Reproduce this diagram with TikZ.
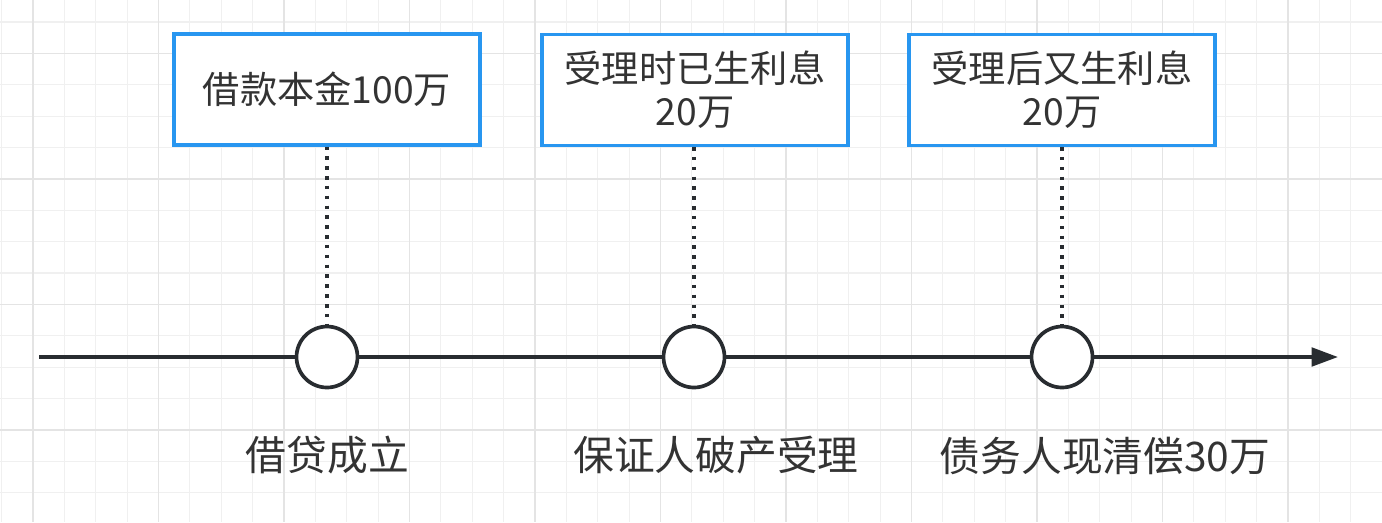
\documentclass[tikz,border=0pt]{standalone}
\usepackage{fontspec}
\setmainfont{Noto Sans CJK SC}
\usetikzlibrary{arrows.meta}
\definecolor{gridminor}{RGB}{240,240,240}
\definecolor{gridmajor}{RGB}{228,228,228}
\definecolor{boxblue}{RGB}{40,150,240}
\definecolor{ink}{RGB}{40,44,48}
\definecolor{txt}{RGB}{51,51,51}
\tikzset{
  minorline/.style={draw=gridminor, line width=0.6pt},
  majorline/.style={draw=gridmajor, line width=1.1pt},
  infobox/.style={draw=boxblue, line width=1.8pt, fill=white, minimum width=6.12cm, minimum height=2.22cm, inner sep=0pt, align=center, text=txt, font=\fontsize{21.2pt}{24.4pt}\selectfont},
  event/.style={circle, draw=ink, line width=2.1pt, fill=white, minimum size=1.22cm, inner sep=0pt},
  eventlabel/.style={text=txt, font=\fontsize{23.2pt}{27pt}\selectfont, inner sep=0pt},
  dotline/.style={draw=ink, line width=2.1pt, dash pattern=on 2pt off 3.6pt},
  timeline/.style={draw=ink, line width=2.1pt, -{Triangle[length=15pt,width=10.5pt]}}
}
\begin{document}
\begin{tikzpicture}[x=0.02cm, y=-0.02cm]
\useasboundingbox (0,0) rectangle (1382,522);
\fill[white] (0,0) rectangle (1382,522);
% grid
\foreach \i in {0,...,44} {
  \pgfmathsetmacro{\gx}{1.6+31.375*\i}
  \draw[minorline] (\gx,0) -- (\gx,522);
}
\foreach \j in {0,...,16} {
  \pgfmathsetmacro{\gy}{22+31.375*\j}
  \draw[minorline] (0,\gy) -- (1382,\gy);
}
\foreach \i in {0,...,11} {
  \pgfmathsetmacro{\gx}{33+125.5*\i}
  \draw[majorline] (\gx,0) -- (\gx,522);
}
\foreach \j in {0,...,3} {
  \pgfmathsetmacro{\gy}{53.5+125.5*\j}
  \draw[majorline] (0,\gy) -- (1382,\gy);
}
% timeline
\coordinate (tstart) at (39,357);
\coordinate (tend) at (1338,357);
\draw[timeline] (tstart) -- (tend);
% events
\node[event] (c1) at (327,357) {};
\node[event] (c2) at (694,357) {};
\node[event] (c3) at (1062,357) {};
% boxes
\node[infobox] (b1) at (327,89.5) {借款本金100万};
\node[infobox] (b2) at (695,90) {受理时已生利息\\20万};
\node[infobox] (b3) at (1062,90) {受理后又生利息\\20万};
% connectors
\draw[dotline] (b1.south) -- (c1.north);
\draw[dotline] (c2.north |- b2.south) -- (c2.north);
\draw[dotline] (b3.south) -- (c3.north);
% labels
\node[eventlabel] (l1) at (327.5,455) {借贷成立};
\node[eventlabel] (l2) at (716,455) {保证人破产受理};
\node[eventlabel] (l3) at (1105,456) {债务人现清偿30万};
\end{tikzpicture}
\end{document}
